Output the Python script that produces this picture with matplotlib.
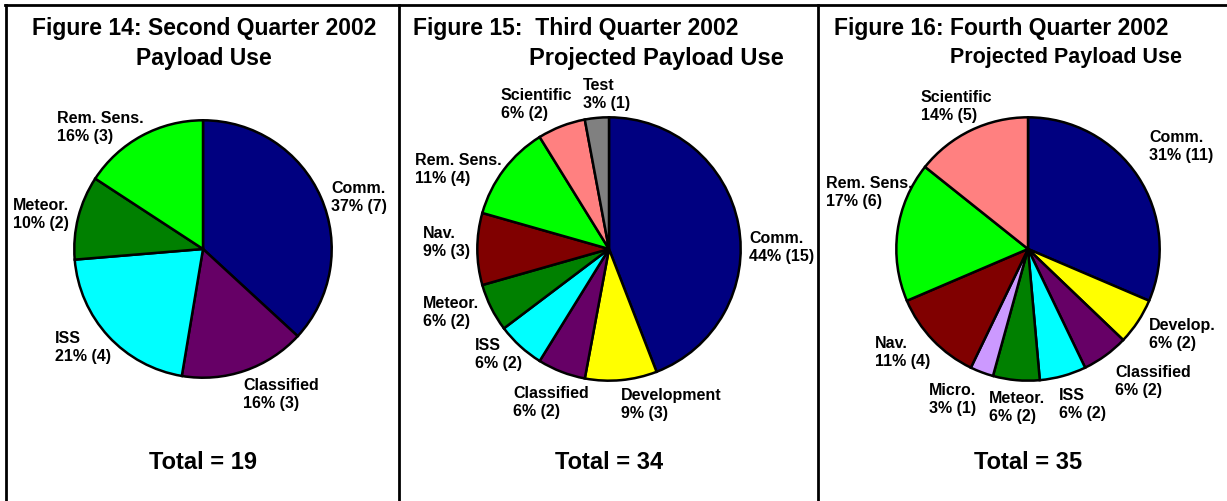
import matplotlib.pyplot as plt
from matplotlib.lines import Line2D

plt.rcParams['font.family'] = ['Liberation Sans', 'DejaVu Sans']
plt.rcParams['font.weight'] = 'bold'

W, H = 1227, 502

# quarter 2
q2_labels = ["Comm.", "Classified", "ISS", "Meteor.", "Rem. Sens."]
q2_counts = [7, 3, 4, 2, 3]
q2_pcts = [37, 16, 21, 10, 16]
q2_colors = ["#000080", "#660066", "#00FFFF", "#008000", "#00FF00"]

# quarter 3
q3_labels = ["Comm.", "Development", "Classified", "ISS", "Meteor.", "Nav.",
             "Rem. Sens.", "Scientific", "Test"]
q3_counts = [15, 3, 2, 2, 2, 3, 4, 2, 1]
q3_pcts = [44, 9, 6, 6, 6, 9, 11, 6, 3]
q3_colors = ["#000080", "#FFFF00", "#660066", "#00FFFF", "#008000", "#800000",
             "#00FF00", "#FF8080", "#808080"]

# quarter 4
q4_labels = ["Comm.", "Develop.", "Classified", "ISS", "Meteor.", "Micro.",
             "Nav.", "Rem. Sens.", "Scientific"]
q4_counts = [11, 2, 2, 2, 2, 1, 4, 6, 5]
q4_pcts = [31, 6, 6, 6, 6, 3, 11, 17, 14]
q4_colors = ["#000080", "#FFFF00", "#660066", "#00FFFF", "#008000", "#CC99FF",
             "#800000", "#00FF00", "#FF8080"]

# label anchor positions (pixels, top-left of text block)
q2_pos = [(331, 181), (243, 378), (55, 331), (13, 198), (57, 111)]
q3_pos = [(749, 231), (621, 388), (513, 386), (475, 338), (423, 296), (423, 226),
          (415, 153), (501, 88), (583, 78)]
q4_pos = [(1149, 130), (1149, 318), (1115, 365), (1059, 388), (989, 391),
          (929, 383), (875, 336), (826, 176), (921, 90)]

fig = plt.figure(figsize=(W / 100, H / 100), dpi=100)


def fx(x):
    return x / W


def fy(y):
    return 1 - y / H


# frame lines
for line in [([5, W], [6, 6]), ([6, 6], [6, H]), ([399, 399], [6, H]), ([818, 818], [6, H])]:
    fig.add_artist(Line2D([fx(v) for v in line[0]], [fy(v) for v in line[1]],
                          color='black', lw=2))


def draw_pie(cx, cy, r, counts, pcts, colors, labels, pos):
    ax = fig.add_axes([fx(cx - r), fy(cy + r), 2 * r / W, 2 * r / H])
    ax.pie(counts, colors=colors, startangle=90, counterclock=False,
           wedgeprops=dict(edgecolor='black', linewidth=1.8))
    ax.set_xlim(-1.01, 1.01)
    ax.set_ylim(-1.01, 1.01)
    ax.set_aspect('auto')
    for lab, c, p, (px, py) in zip(labels, counts, pcts, pos):
        fig.text(fx(px), fy(py), f"{lab}\n{p}% ({c})", ha='left', va='top',
                 fontsize=11.5, fontweight='bold', linespacing=1.25)
    fig.text(fx(cx), fy(463), f"Total = {sum(counts)}", ha='center', va='center',
             fontsize=17, fontweight='bold')


draw_pie(203, 250, 130, q2_counts, q2_pcts, q2_colors, q2_labels, q2_pos)
draw_pie(609, 250, 133, q3_counts, q3_pcts, q3_colors, q3_labels, q3_pos)
draw_pie(1028, 250, 133, q4_counts, q4_pcts, q4_colors, q4_labels, q4_pos)

tsize = 16.5
fig.text(fx(204), fy(28), "Figure 14: Second Quarter 2002", ha='center', va='center',
         fontsize=tsize, fontweight='bold')
fig.text(fx(204), fy(58), "Payload Use", ha='center', va='center',
         fontsize=tsize, fontweight='bold')
fig.text(fx(413), fy(28), "Figure 15:  Third Quarter 2002", ha='left', va='center',
         fontsize=tsize, fontweight='bold')
fig.text(fx(529), fy(58), "Projected Payload Use", ha='left', va='center',
         fontsize=tsize + 0.5, fontweight='bold')
fig.text(fx(834), fy(28), "Figure 16: Fourth Quarter 2002", ha='left', va='center',
         fontsize=tsize, fontweight='bold')
fig.text(fx(1066), fy(58), "Projected Payload Use", ha='center', va='center',
         fontsize=15.5, fontweight='bold')

fig.savefig("out.png", dpi=100)
